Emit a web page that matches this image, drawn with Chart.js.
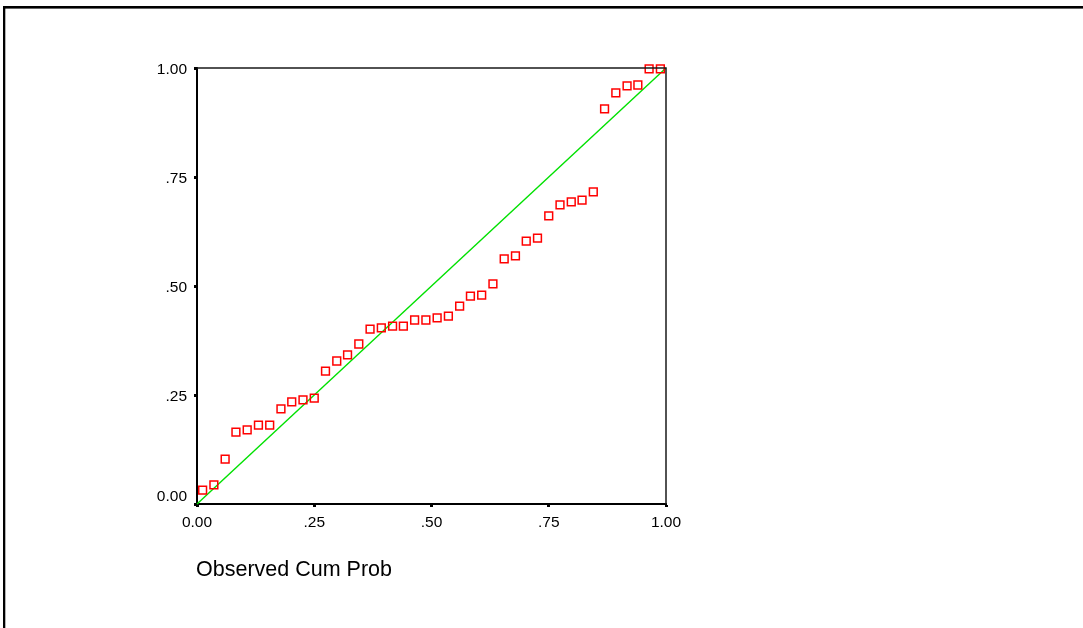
<!DOCTYPE html>
<html>
<head>
<meta charset="utf-8">
<script src="https://cdn.jsdelivr.net/npm/chart.js@4/dist/chart.umd.min.js"></script>
<style>
  html, body { margin: 0; padding: 0; background: #fff; }
  #wrap { position: relative; width: 1083px; height: 628px; }
</style>
</head>
<body>
<div id="wrap"><canvas id="pp" width="1083" height="628"></canvas></div>
<script>
// Normal P-P plot: observed vs expected cumulative probability
const observedCumProb = [0.012, 0.036, 0.060, 0.083, 0.107, 0.131, 0.155, 0.179, 0.202, 0.226,
                         0.250, 0.274, 0.298, 0.321, 0.345, 0.369, 0.393, 0.417, 0.440, 0.464,
                         0.488, 0.512, 0.536, 0.560, 0.583, 0.607, 0.631, 0.655, 0.679, 0.702,
                         0.726, 0.750, 0.774, 0.798, 0.821, 0.845, 0.869, 0.893, 0.917, 0.940,
                         0.964, 0.988];
const expectedCumProb = [0.032, 0.044, 0.103, 0.165, 0.170, 0.181, 0.181, 0.218, 0.234, 0.239,
                         0.243, 0.305, 0.328, 0.342, 0.367, 0.401, 0.404, 0.408, 0.408, 0.422,
                         0.422, 0.427, 0.431, 0.454, 0.477, 0.479, 0.505, 0.562, 0.569, 0.603,
                         0.610, 0.661, 0.686, 0.693, 0.697, 0.716, 0.906, 0.943, 0.959, 0.961,
                         0.998, 0.998];
const referenceLine = [[0, 0], [1, 1]];
const tickValues = [0, 0.25, 0.5, 0.75, 1];
const xTickLabels = ['0.00', '.25', '.50', '.75', '1.00'];
const yTickLabels = ['0.00', '.25', '.50', '.75', '1.00'];
const xAxisTitle = 'Observed Cum Prob';

const FONT = '"Liberation Sans", Arial, sans-serif';

// Page frame, plot box and the x-axis caption
const framePlugin = {
  id: 'frame',
  beforeDraw(chart) {
    const ctx = chart.ctx;
    ctx.save();
    ctx.fillStyle = '#fff';
    ctx.fillRect(0, 0, chart.width, chart.height);
    ctx.fillStyle = '#000';
    ctx.fillRect(3, 6, chart.width - 3, 2.6);
    ctx.fillRect(3, 6, 2.3, chart.height - 6);
    ctx.restore();
  },
  afterDraw(chart) {
    const ctx = chart.ctx;
    const a = chart.chartArea;
    ctx.save();
    ctx.strokeStyle = '#1a1a1a';
    ctx.lineWidth = 1.5;
    ctx.beginPath();
    ctx.moveTo(a.left, a.top);
    ctx.lineTo(a.right, a.top);
    ctx.lineTo(a.right, a.bottom);
    ctx.stroke();
    ctx.fillStyle = '#000';
    ctx.font = '21.5px ' + FONT;
    ctx.textBaseline = 'middle';
    ctx.textAlign = 'left';
    ctx.fillText(xAxisTitle, a.left - 1, 570);
    ctx.restore();
  }
};

new Chart(document.getElementById('pp'), {
  type: 'scatter',
  data: {
    datasets: [
      {
        type: 'line',
        data: referenceLine.map(p => ({ x: p[0], y: p[1] })),
        borderColor: 'rgb(0,225,0)',
        borderWidth: 1.4,
        pointRadius: 0,
        fill: false,
        clip: false,
        order: 2
      },
      {
        data: observedCumProb.map((x, i) => ({ x: x, y: expectedCumProb[i] })),
        pointStyle: 'rect',
        pointRadius: 5.5,
        pointHoverRadius: 5.5,
        borderColor: '#ff0000',
        borderWidth: 1.5,
        backgroundColor: 'rgba(255,255,255,0)',
        clip: false,
        order: 1
      }
    ]
  },
  options: {
    responsive: false,
    animation: false,
    devicePixelRatio: 1,
    layout: { padding: { top: 68, right: 417, left: 0, bottom: 0 } },
    plugins: { legend: { display: false }, tooltip: { enabled: false } },
    scales: {
      x: {
        type: 'linear',
        min: 0, max: 1,
        afterFit: s => { s.height = 124; },
        afterBuildTicks: s => { s.ticks = tickValues.map(v => ({ value: v })); },
        border: { display: true, color: '#000', width: 2 },
        grid: { drawOnChartArea: false, drawTicks: true, tickLength: 3, tickWidth: 3, color: '#000' },
        ticks: {
          padding: 6,
          color: '#000',
          font: { family: FONT, size: 15.5 },
          maxRotation: 0,
          callback: v => xTickLabels[tickValues.indexOf(v)]
        }
      },
      y: {
        type: 'linear',
        min: 0, max: 1,
        afterFit: s => { s.width = 197; },
        afterBuildTicks: s => { s.ticks = tickValues.map(v => ({ value: v })); },
        border: { display: true, color: '#000', width: 2 },
        grid: { drawOnChartArea: false, drawTicks: true, tickLength: 3, tickWidth: 3, color: '#000' },
        ticks: {
          padding: 7,
          labelOffset: 2,
          color: '#000',
          font: { family: FONT, size: 15.5 },
          callback: v => {
            const t = yTickLabels[tickValues.indexOf(v)];
            return v === 0 ? [t, ''] : t;
          }
        }
      }
    }
  },
  plugins: [framePlugin]
});
</script>
</body>
</html>
